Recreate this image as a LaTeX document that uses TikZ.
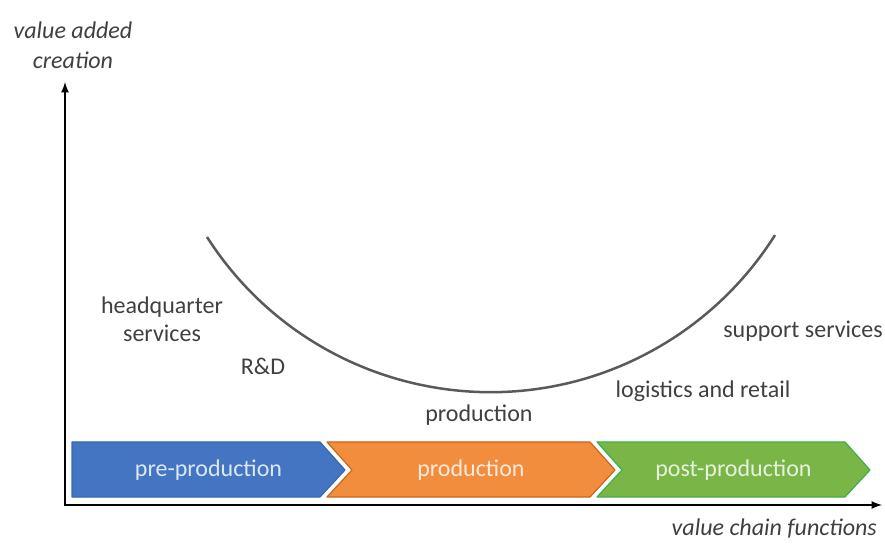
\documentclass[tikz,border=0pt]{standalone}
\usepackage{fontspec}
\setmainfont{Carlito}
\usepackage{tikz}
\usetikzlibrary{arrows}
\usetikzlibrary{calc}
\usetikzlibrary{positioning}
\definecolor{prepro}{HTML}{4375C2}
\definecolor{prepromark}{HTML}{3A67AD}
\definecolor{prodo}{HTML}{F38D3E}
\definecolor{prodomark}{HTML}{C9651E}
\definecolor{postpro}{HTML}{7AB547}
\definecolor{postpromark}{HTML}{3FAF4A}
\definecolor{labelgray}{HTML}{404040}
\definecolor{curvegray}{HTML}{5A5A5A}
\newcommand{\chevron}[7] {
\filldraw[fill=#5, draw=#6, line width=1.2pt, line join=round]
   (#2,101) -- ({#3-25},101) -- (#3,73) -- ({#3-25},46) -- (#2,46) -- ({#2+#4},73) -- cycle;
\node[chevtext=#5] (#1) at ({(#2+#3)/2},73) {#7};
}

\begin{document}
\begin{tikzpicture}[x=1pt, y=1pt,
    lbl/.style={text=labelgray, font=\fontsize{24}{28}\selectfont, inner sep=0pt},
    axislbl/.style={lbl, font=\fontsize{24}{30}\selectfont\itshape},
    chevtext/.style={text=#1!18!white, font=\fontsize{24}{28}\selectfont, inner sep=0pt},
    axis/.style={line width=2.5pt, -latex},
    ucurve/.style={draw=curvegray, line width=2.5pt}]
      \useasboundingbox (0,0) rectangle (885,543);
      % chevrons along the value chain
      \chevron{pre}{72}{345}{0}{prepro}{prepromark}{pre-production}
      \chevron{prod}{327}{615}{25}{prodo}{prodomark}{production}
      \chevron{post}{597}{870}{25}{postpro}{postpromark}{post-production}

      % axes
      \coordinate (origin) at (65, 38);
      \coordinate (ytip) at (65, 461);
      \coordinate (xtip) at (882, 38);
      \draw[axis] ($ (origin) + (0,-1.25) $) -- (ytip);
      \draw[axis] ($ (origin) + (-1.25,0) $) -- (xtip);
      \node[axislbl, align=center] (ylabel) at (73, 498) {value added\\creation};
      \node[axislbl, anchor=east] (xlabel) at (877, 14) {value chain functions};

      % smile curve
      \coordinate (ustart) at (207, 306);
      \draw[ucurve] (ustart) arc[start angle=212.6, end angle=327.8, radius=336.4];

      \node[lbl, align=center] (hq) at (162, 224) {headquarter\\services};
      \node[lbl] (rd) at (263, 177) {R\&D};
      \node[lbl] (produ) at (479, 128) {production};
      \node[lbl] (logi) at (703, 152) {logistics and retail};
      \node[lbl] (supp) at (803, 212) {support services};
    \end{tikzpicture}
\end{document}
